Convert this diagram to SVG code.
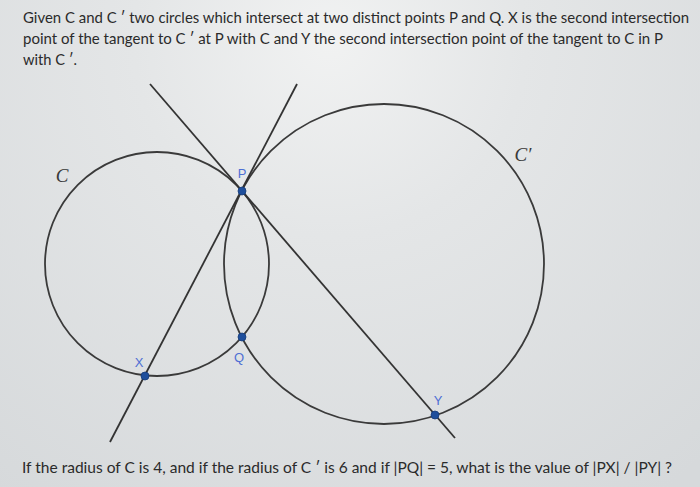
<svg xmlns="http://www.w3.org/2000/svg" width="700" height="487" viewBox="0 0 700 487">
<defs>
<radialGradient id="bg" cx="330" cy="40" r="560" gradientUnits="userSpaceOnUse">
<stop offset="0" stop-color="#f1f2f2"/>
<stop offset="0.35" stop-color="#e4e6e7"/>
<stop offset="1" stop-color="#d6d9db"/>
</radialGradient>
<style>
.txt{font-family:Lato,"Open Sans","Liberation Sans",sans-serif;font-size:15px;fill:#2b2b2b}
.curve{fill:none;stroke:#3a3a3a;stroke-width:1.8}
.line{stroke:#333;stroke-width:1.8;fill:none}
.pt{fill:#1f4f9c;stroke:#163c78;stroke-width:0.8}
.plab{font-family:"Liberation Sans",Arial,sans-serif;font-size:13px;fill:#4e6fd4;text-anchor:middle}
.clab{font-family:"Liberation Serif","Times New Roman",serif;font-style:italic;font-size:19px;fill:#3a3a3a;text-anchor:middle}
</style>
</defs>
<rect x="0" y="0" width="700" height="487" fill="url(#bg)"/>
<g id="question-top">
<text class="txt" x="23" y="23" textLength="666" lengthAdjust="spacingAndGlyphs">Given C and C ′ two circles which intersect at two distinct points P and Q. X is the second intersection</text>
<text class="txt" x="23" y="44" textLength="640" lengthAdjust="spacingAndGlyphs">point of the tangent to C ′ at P with C and Y the second intersection point of the tangent to C in P</text>
<text class="txt" x="23" y="65" textLength="54" lengthAdjust="spacingAndGlyphs">with C ′.</text>
</g>
<g id="question-bottom">
<text class="txt" x="22" y="473" textLength="650" lengthAdjust="spacingAndGlyphs">If the radius of C is 4, and if the radius of C ′ is 6 and if |PQ| = 5, what is the value of |PX| / |PY| ?</text>
</g>
<g id="circle-C">
<circle class="curve" cx="157" cy="264" r="112"/>
<text class="clab" x="62" y="182">C</text>
</g>
<g id="circle-Cprime">
<circle class="curve" cx="384" cy="264" r="160"/>
<text class="clab" x="523" y="161">C′</text>
</g>
<g id="connectors">
<line class="line" x1="297" y1="84" x2="110" y2="442"/>
<line class="line" x1="150" y1="84" x2="455" y2="438"/>
</g>
<g id="point-P">
<circle class="pt" cx="242" cy="191" r="4"/>
<text class="plab" x="242" y="178">P</text>
</g>
<g id="point-Q">
<circle class="pt" cx="242" cy="337" r="4"/>
<text class="plab" x="239" y="362">Q</text>
</g>
<g id="point-X">
<circle class="pt" cx="145" cy="376" r="4"/>
<text class="plab" x="139" y="367">X</text>
</g>
<g id="point-Y">
<circle class="pt" cx="435" cy="415" r="4"/>
<text class="plab" x="438" y="405">Y</text>
</g>
</svg>
